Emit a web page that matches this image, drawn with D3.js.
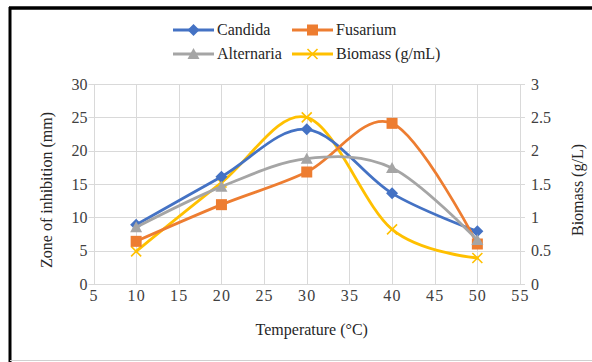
<!DOCTYPE html>
<html>
<head>
<meta charset="utf-8">
<script src="https://cdn.jsdelivr.net/npm/d3@7"></script>
<style>
  body { margin: 0; background: #fff; }
  svg { display: block; font-family: "Liberation Serif", "Times New Roman", serif; }
  .tick-label { font-size: 16px; fill: #404040; }
  .axis-title { font-size: 16px; fill: #262626; }
  .legend-text { font-size: 16px; fill: #262626; }
</style>
</head>
<body>
<div id="chart"></div>
<script>
const temperatures = [10, 20, 30, 40, 50];
const candida = [8.9, 16.1, 23.2, 13.6, 7.9];
const fusarium = [6.4, 11.9, 16.8, 24.1, 6.0];
const alternaria = [8.5, 14.6, 18.8, 17.4, 6.6];
const biomass = [0.49, 1.52, 2.5, 0.82, 0.39];

const xTicks = [5, 10, 15, 20, 25, 30, 35, 40, 45, 50, 55];
const yLeftTicks = [0, 5, 10, 15, 20, 25, 30];
const yRightTicks = [0, 0.5, 1, 1.5, 2, 2.5, 3];

const width = 592;
const height = 362;
const plot = { left: 93.5, right: 520, top: 84, bottom: 284 };

const svg = d3.select('#chart').append('svg')
  .attr('width', width)
  .attr('height', height);

const x = d3.scaleLinear().domain([5, 55]).range([plot.left, plot.right]);
const yLeft = d3.scaleLinear().domain([0, 30]).range([plot.bottom, plot.top]);
const yRight = d3.scaleLinear().domain([0, 3]).range([plot.bottom, plot.top]);

// frame
svg.append('line')
  .attr('x1', 9).attr('x2', width).attr('y1', 8).attr('y2', 8)
  .attr('stroke', '#000').attr('stroke-width', 3.5);
svg.append('line')
  .attr('x1', 10).attr('x2', 10).attr('y1', 7).attr('y2', height)
  .attr('stroke', '#000').attr('stroke-width', 3);
svg.append('line')
  .attr('x1', 10).attr('x2', width).attr('y1', 360.5).attr('y2', 360.5)
  .attr('stroke', '#d0d0d0').attr('stroke-width', 1);

// gridlines
const grid = svg.append('g').attr('stroke', '#d9d9d9').attr('stroke-width', 1);
grid.selectAll('.vgrid')
  .data(xTicks)
  .enter().append('line')
    .attr('x1', d => Math.round(x(d)) + 0.5)
    .attr('x2', d => Math.round(x(d)) + 0.5)
    .attr('y1', plot.top)
    .attr('y2', plot.bottom);
grid.selectAll('.hgrid')
  .data(yLeftTicks)
  .enter().append('line')
    .attr('x1', plot.left - 5)
    .attr('x2', plot.right + 5)
    .attr('y1', d => Math.round(yLeft(d)) + 0.5)
    .attr('y2', d => Math.round(yLeft(d)) + 0.5);

// axes
const xAxis = d3.axisBottom(x).tickValues(xTicks).tickSize(0).tickPadding(6);
const yAxisLeft = d3.axisLeft(yLeft).tickValues(yLeftTicks).tickSize(0).tickPadding(6);
const yAxisRight = d3.axisRight(yRight).tickValues(yRightTicks).tickSize(0).tickPadding(11)
  .tickFormat(d3.format('~g'));

const styleAxis = g => {
  g.attr('font-family', null).attr('font-size', null);
  g.select('.domain').remove();
  g.selectAll('text')
    .attr('class', 'tick-label')
    .attr('fill', null);
};

svg.append('g')
  .attr('transform', `translate(0, ${plot.bottom})`)
  .call(xAxis)
  .call(styleAxis)
  .selectAll('text').style('letter-spacing', '1.2px');

svg.append('g')
  .attr('transform', `translate(${plot.left}, 0)`)
  .call(yAxisLeft)
  .call(styleAxis);

svg.append('g')
  .attr('transform', `translate(${plot.right}, 0)`)
  .call(yAxisRight)
  .call(styleAxis);

// axis titles
svg.append('text')
  .attr('class', 'axis-title')
  .attr('x', (plot.left + plot.right) / 2 + 5)
  .attr('y', 335)
  .attr('text-anchor', 'middle')
  .text('Temperature (°C)');

svg.append('text')
  .attr('class', 'axis-title')
  .attr('transform', 'translate(52, 190) rotate(-90)')
  .attr('text-anchor', 'middle')
  .text('Zone of inhibition (mm)');

svg.append('text')
  .attr('class', 'axis-title')
  .attr('transform', 'translate(583, 190) rotate(-90)')
  .attr('text-anchor', 'middle')
  .text('Biomass (g/L)');

// series
const series = [
  { name: 'Biomass (g/mL)', values: biomass, y: yRight, color: '#FFC000', marker: 'x' },
  { name: 'Candida', values: candida, y: yLeft, color: '#4472C4', marker: 'diamond' },
  { name: 'Fusarium', values: fusarium, y: yLeft, color: '#ED7D31', marker: 'square' },
  { name: 'Alternaria', values: alternaria, y: yLeft, color: '#A5A5A5', marker: 'triangle' }
];

const drawMarker = (g, type, color) => {
  if (type === 'diamond') {
    g.append('path').attr('d', 'M0,-6L6,0L0,6L-6,0Z').attr('fill', color);
  } else if (type === 'square') {
    g.append('rect').attr('x', -5.5).attr('y', -5.5).attr('width', 11).attr('height', 11)
      .attr('fill', color);
  } else if (type === 'triangle') {
    g.append('path').attr('d', 'M0,-6L6,5L-6,5Z').attr('fill', color);
  } else {
    g.append('path').attr('d', 'M-5,-5L5,5M-5,5L5,-5')
      .attr('stroke', color).attr('stroke-width', 1.6).attr('fill', 'none');
  }
};

const plotLayer = svg.append('g');
for (let s of series) {
  const pts = temperatures.map((t, i) => ({ t, v: s.values[i] }));
  const line = d3.line()
    .x(d => x(d.t))
    .y(d => s.y(d.v))
    .curve(d3.curveCardinal.tension(0));

  plotLayer.append('path')
    .datum(pts)
    .attr('d', line)
    .attr('fill', 'none')
    .attr('stroke', s.color)
    .attr('stroke-width', 2.8)
    .attr('stroke-linecap', 'round');

  plotLayer.selectAll(null)
    .data(pts)
    .enter().append('g')
      .attr('transform', d => `translate(${x(d.t)}, ${s.y(d.v)})`)
      .each(function() { drawMarker(d3.select(this), s.marker, s.color); });
}

// legend
const legendItems = [
  { name: 'Candida', color: '#4472C4', marker: 'diamond', lx: 173, ly: 30 },
  { name: 'Fusarium', color: '#ED7D31', marker: 'square', lx: 292, ly: 30 },
  { name: 'Alternaria', color: '#A5A5A5', marker: 'triangle', lx: 173, ly: 54 },
  { name: 'Biomass (g/mL)', color: '#FFC000', marker: 'x', lx: 292, ly: 54 }
];

const legend = svg.selectAll('.legend')
  .data(legendItems)
  .enter().append('g')
    .attr('class', 'legend')
    .attr('transform', d => `translate(${d.lx}, ${d.ly})`);

legend.append('line')
  .attr('x1', 0).attr('x2', 41)
  .attr('stroke', d => d.color)
  .attr('stroke-width', 2.8);

legend.each(function(d) {
  const g = d3.select(this).append('g').attr('transform', 'translate(20.5, 0)');
  drawMarker(g, d.marker, d.color);
});

legend.append('text')
  .attr('class', 'legend-text')
  .attr('x', 44)
  .attr('y', 5)
  .text(d => d.name);
</script>
</body>
</html>
